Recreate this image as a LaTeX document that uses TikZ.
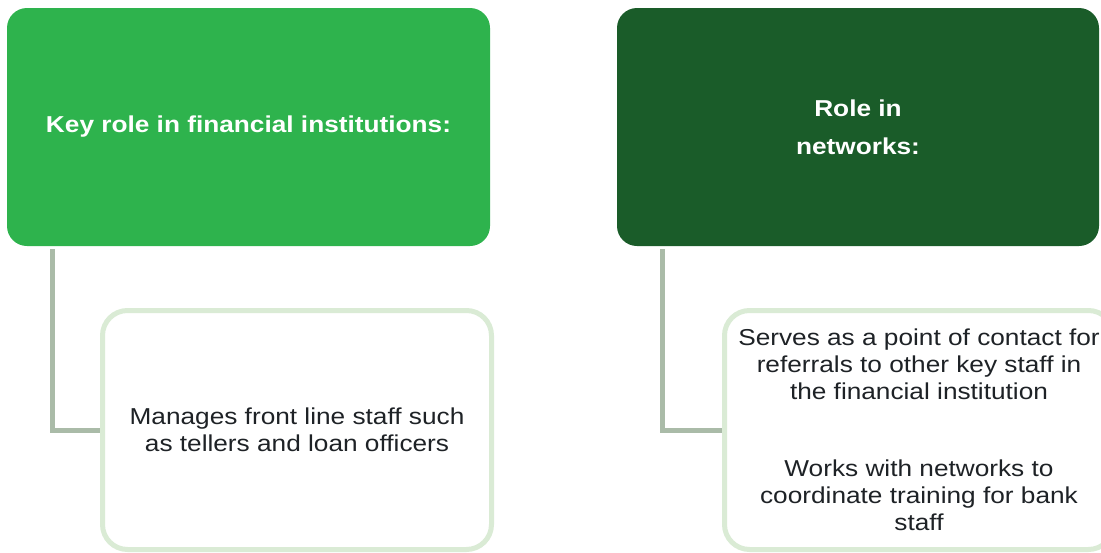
\documentclass[tikz,border=0pt]{standalone}
\usepackage{fontspec}
\setmainfont{Liberation Sans}[FakeStretch=1.14]
\usepackage {tikz}
\usetikzlibrary {positioning}
\definecolor{headlight}{RGB}{46,179,77}
\definecolor{headdark}{RGB}{26,92,41}
\definecolor{childline}{RGB}{218,235,213}
\definecolor{connline}{RGB}{170,187,168}
\definecolor{bodytext}{RGB}{30,34,38}

\begin{document}
\begin{tikzpicture}[x=1pt, y=-1pt, font=\fontsize{23}{27}\selectfont,
		head/.style={rectangle, rounded corners=20pt, minimum width=483pt, minimum height=238pt, text=white, font=\fontsize{23}{38}\selectfont\bfseries, align=center},
		child/.style={rectangle, draw=childline, line width=5pt, rounded corners=25pt, fill=white, minimum width=389pt, minimum height=239pt, text=bodytext, align=center},
		conn/.style={draw=connline, line width=5pt}]
		\useasboundingbox (0,0) rectangle (1101,552);
		\clip (0,0) rectangle (1101,552);
		\node (KRF) at (248.5,127) [head, fill=headlight] {Key role in financial institutions:};
		\node (RIN) at (858,127) [head, fill=headdark, minimum width=482pt] {Role in\\networks:};
		\node (MFL) at (297,430) [child] {Manages front line staff such\\as tellers and loan officers};
		\node (SPC) at (919,430) [child] {Serves as a point of contact for\\referrals to other key staff in\\the financial institution\\[50pt]Works with networks to\\coordinate training for bank\\staff};
		\draw[conn] ([xshift=46pt, yshift=-3pt]KRF.south west) |- (MFL.west);
		\draw[conn] ([xshift=46pt, yshift=-3pt]RIN.south west) |- (SPC.west);
		\end{tikzpicture}
\end{document}
